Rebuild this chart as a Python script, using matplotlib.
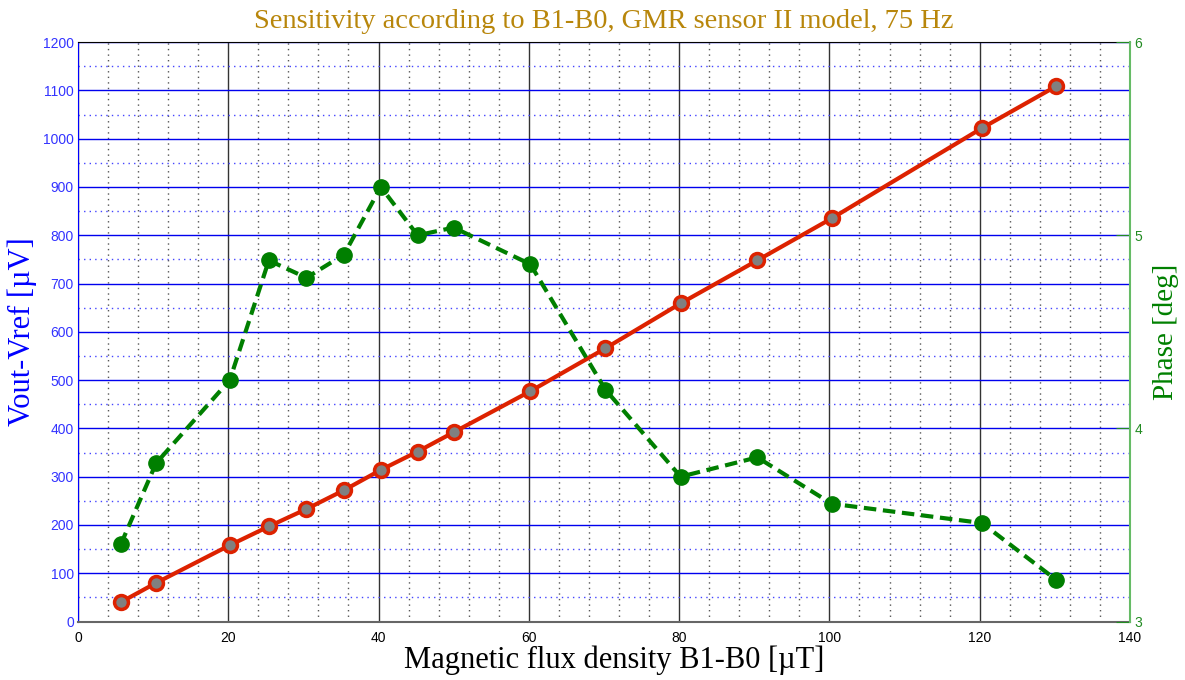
import matplotlib
matplotlib.use('Agg')
import matplotlib.pyplot as plt
from matplotlib.ticker import MultipleLocator

# Data
b_field = [5.7, 10.4, 20.2, 25.4, 30.4, 35.4, 40.3, 45.2, 50.0, 60.2, 70.2, 80.2, 90.4, 100.3, 120.3, 130.2]
vout = [40, 80, 158, 197, 233, 272, 314, 352, 392, 477, 566, 659, 748, 835, 1022, 1109]
phase = [3.40, 3.82, 4.25, 4.87, 4.78, 4.90, 5.25, 5.00, 5.04, 4.85, 4.20, 3.75, 3.85, 3.61, 3.51, 3.215]

title = 'Sensitivity according to B1-B0, GMR sensor II model, 75 Hz'
xlabel = 'Magnetic flux density B1-B0 [\u00b5T]'
ylabel_left = 'Vout-Vref [\u00b5V]'
ylabel_right = 'Phase [deg]'

serif = 'Liberation Serif'
sans = 'Liberation Sans'

fig = plt.figure(figsize=(11.85, 6.8), dpi=100)
ax = fig.add_axes([0.0658, 0.086, 0.8878, 0.852])

ax.set_xlim(0, 140)
ax.set_ylim(0, 1200)
ax.xaxis.set_major_locator(MultipleLocator(20))
ax.xaxis.set_minor_locator(MultipleLocator(4))
ax.yaxis.set_major_locator(MultipleLocator(100))
ax.yaxis.set_minor_locator(MultipleLocator(50))

# grid
ax.grid(which='major', axis='x', color='#333333', linewidth=1.0, linestyle='-')
ax.grid(which='minor', axis='x', color='#555555', linewidth=1.0, linestyle=(0, (1, 3)))
ax.grid(which='major', axis='y', color='#0000ee', linewidth=1.0, linestyle='-')
ax.grid(which='minor', axis='y', color='#4444ff', linewidth=1.0, linestyle=(0, (1, 3)))
ax.set_axisbelow(True)

ax.tick_params(which='both', length=0)
ax.tick_params(axis='y', colors='#3333ff', labelsize=10, pad=3)
ax.tick_params(axis='x', colors='black', labelsize=10, pad=7)
for lab in ax.get_xticklabels() + ax.get_yticklabels():
    lab.set_family(sans)

ax.spines['left'].set_color('#0000ff')
ax.spines['bottom'].set_color('#666666')
ax.spines['bottom'].set_linewidth(1.5)
ax.spines['top'].set_color('black')
ax.spines['right'].set_visible(False)

ax.plot(b_field, vout, color='#dd2200', linewidth=3, marker='o', markersize=10,
        markerfacecolor='#808080', markeredgecolor='#dd2200', markeredgewidth=2.5, zorder=5)

ax.set_title(title, family=serif, fontsize=20.5, color='#b8860b', pad=10)
ax.set_xlabel(xlabel, family=serif, fontsize=22, color='black', labelpad=0)
ax.xaxis.label.set_x(0.51)
ax.set_ylabel(ylabel_left, family=serif, fontsize=22, color='#0000ff', labelpad=4)

ax2 = ax.twinx()
ax2.set_ylim(3, 6)
ax2.yaxis.set_major_locator(MultipleLocator(1))
ax2.plot(b_field, phase, color='#007f00', linewidth=3, linestyle=(0, (3, 1.6)),
         marker='o', markersize=11, markerfacecolor='#007f00', markeredgecolor='#007f00', zorder=5)
ax2.tick_params(axis='y', direction='in', length=10, colors='#228b22', labelsize=10, pad=3)
for lab in ax2.get_yticklabels():
    lab.set_family(sans)
ax2.spines['right'].set_color('#66bb66')
ax2.spines['right'].set_linewidth(1.5)
for s in ['left', 'top', 'bottom']:
    ax2.spines[s].set_visible(False)
ax2.set_ylabel(ylabel_right, family=serif, fontsize=21, color='#008000', labelpad=8)

fig.savefig('out.png', dpi=100)
